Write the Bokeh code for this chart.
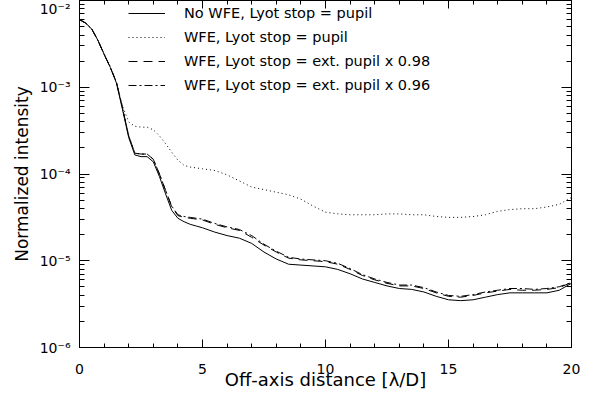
import numpy as np
from bokeh.plotting import figure
from bokeh.models import (LinearAxis, LogAxis, FixedTicker, Range1d, Legend, LegendItem,
                          CustomJSTickFormatter)
from bokeh.embed import file_html
from bokeh.resources import INLINE

# Off-axis distance [lambda/D]
x_dist = [0, 0.25, 0.5, 0.75, 1.0, 1.25, 1.5, 1.75, 2.0, 2.25, 2.5, 2.75, 3.0, 3.25, 3.5,
          3.75, 4.0, 4.25, 4.5, 4.75, 5.0, 5.5, 6.0, 6.5, 7.0, 7.5, 8.0, 8.5, 9.0, 9.5,
          10.0, 10.5, 11.0, 11.5, 12.0, 12.5, 13.0, 13.5, 14.0, 14.5, 15.0, 15.5, 16.0,
          16.5, 17.0, 17.5, 18.0, 18.5, 19.0, 19.5, 20.0]

# log10 of normalized intensity
log_no_wfe = [-2.22, -2.26, -2.33, -2.46, -2.62, -2.77, -2.95, -3.26, -3.58, -3.78, -3.80,
              -3.80, -3.86, -4.03, -4.23, -4.42, -4.51, -4.55, -4.58, -4.60, -4.62, -4.67,
              -4.71, -4.74, -4.80, -4.90, -4.98, -5.04, -5.05, -5.06, -5.07, -5.10, -5.15,
              -5.21, -5.25, -5.29, -5.32, -5.33, -5.36, -5.41, -5.45, -5.46, -5.45, -5.42,
              -5.39, -5.37, -5.37, -5.37, -5.37, -5.34, -5.26]
log_wfe_pupil = [-2.22, -2.26, -2.33, -2.46, -2.61, -2.76, -2.95, -3.22, -3.40, -3.45, -3.46,
                 -3.46, -3.49, -3.56, -3.65, -3.75, -3.84, -3.90, -3.92, -3.93, -3.94, -3.96,
                 -4.01, -4.08, -4.15, -4.18, -4.21, -4.24, -4.29, -4.37, -4.44, -4.46, -4.47,
                 -4.47, -4.47, -4.46, -4.46, -4.47, -4.47, -4.49, -4.50, -4.50, -4.49, -4.47,
                 -4.43, -4.41, -4.40, -4.40, -4.38, -4.35, -4.27]
log_wfe_098 = [-2.22, -2.26, -2.33, -2.46, -2.62, -2.77, -2.94, -3.24, -3.56, -3.76, -3.77,
               -3.77, -3.83, -4.00, -4.19, -4.38, -4.48, -4.50, -4.51, -4.52, -4.53, -4.58,
               -4.62, -4.65, -4.73, -4.82, -4.90, -4.97, -4.99, -5.00, -5.01, -5.04, -5.10,
               -5.17, -5.22, -5.26, -5.29, -5.29, -5.32, -5.37, -5.41, -5.42, -5.40, -5.37,
               -5.35, -5.33, -5.34, -5.34, -5.33, -5.31, -5.25]
log_wfe_096 = [-2.22, -2.26, -2.33, -2.46, -2.62, -2.77, -2.94, -3.24, -3.56, -3.76, -3.77,
               -3.77, -3.83, -4.00, -4.19, -4.37, -4.47, -4.49, -4.50, -4.51, -4.52, -4.57,
               -4.61, -4.64, -4.71, -4.81, -4.89, -4.96, -4.98, -4.99, -5.00, -5.03, -5.09,
               -5.16, -5.21, -5.25, -5.28, -5.28, -5.31, -5.36, -5.40, -5.41, -5.39, -5.36,
               -5.34, -5.32, -5.32, -5.33, -5.32, -5.30, -5.25]

series_labels = ["No WFE, Lyot stop = pupil",
                 "WFE, Lyot stop = pupil",
                 "WFE, Lyot stop = ext. pupil x 0.98",
                 "WFE, Lyot stop = ext. pupil x 0.96"]

x_major = [0, 5, 10, 15, 20]
y_major = [1e-6, 1e-5, 1e-4, 1e-3, 1e-2]

FONT = "DejaVu Sans"

x_ticker = FixedTicker(ticks=x_major, minor_ticks=list(range(0, 21)))
y_minor = [m * d for d in [1e-6, 1e-5, 1e-4, 1e-3] for m in range(2, 10)]
y_ticker = FixedTicker(ticks=y_major, minor_ticks=y_minor)

sup_fmt = CustomJSTickFormatter(code="""
const e = Math.round(Math.log10(tick));
const sup = {'-':'\u207b','0':'\u2070','1':'\u00b9','2':'\u00b2','3':'\u00b3','4':'\u2074',
             '5':'\u2075','6':'\u2076','7':'\u2077','8':'\u2078','9':'\u2079'};
return '10' + String(e).split('').map(c => sup[c]).join('');
""")
blank_fmt = CustomJSTickFormatter(code="return '';")

p = figure(frame_width=492, frame_height=347,
           x_range=Range1d(0, 20), y_range=Range1d(1e-6, 1e-2), y_axis_type="log",
           output_backend="svg", toolbar_location=None,
           min_border_left=79, min_border_right=14, min_border_top=0, min_border_bottom=40,
           x_axis_label="Off-axis distance [\u03bb/D]", y_axis_label="Normalized intensity")
p.grid.visible = False
p.outline_line_color = None
p.background_fill_color = "white"
p.border_fill_color = "white"


def style_axis(ax, major_len, minor_len):
    ax.axis_line_color = "black"
    ax.axis_line_width = 1
    ax.major_tick_line_color = "black"
    ax.minor_tick_line_color = "black"
    ax.major_tick_in = major_len
    ax.major_tick_out = 0
    ax.minor_tick_in = minor_len
    ax.minor_tick_out = 0
    ax.axis_label_text_font = FONT
    ax.axis_label_text_font_style = "normal"
    ax.axis_label_text_font_size = "17px"
    ax.axis_label_text_color = "black"
    ax.major_label_text_font = FONT
    ax.major_label_text_font_size = "14px"
    ax.major_label_text_color = "black"


xa = p.xaxis[0]
xa.ticker = x_ticker
style_axis(xa, 8, 4)
xa.major_label_standoff = 16
xa.axis_label_standoff = -8
xa.axis_label_text_font_size = "18px"

ya = p.yaxis[0]
ya.ticker = y_ticker
ya.formatter = sup_fmt
style_axis(ya, 10, 5)
ya.major_label_standoff = 9
ya.axis_label_standoff = 5

top = LinearAxis(ticker=x_ticker, formatter=blank_fmt)
style_axis(top, 8, 4)
top.major_label_standoff = 0
p.add_layout(top, "above")

right = LogAxis(ticker=y_ticker, formatter=blank_fmt)
style_axis(right, 10, 5)
right.major_label_standoff = 0
p.add_layout(right, "right")

xs = np.array(x_dist)
r1 = p.line(xs, 10 ** np.array(log_no_wfe), line_color="black", line_width=1)
r2 = p.line(xs, 10 ** np.array(log_wfe_pupil), line_color="black", line_width=1, line_dash="1 3")
r3 = p.line(xs, 10 ** np.array(log_wfe_098), line_color="black", line_width=1, line_dash="9 6")
r4 = p.line(xs, 10 ** np.array(log_wfe_096), line_color="black", line_width=1, line_dash="8 3 2 3")

legend = Legend(items=[LegendItem(label=series_labels[i], renderers=[r])
                       for i, r in enumerate([r1, r2, r3, r4])],
                location=(49, 254), orientation="vertical",
                glyph_width=37, glyph_height=16, label_height=16, label_standoff=19,
                spacing=8, padding=0, margin=0,
                border_line_alpha=0, background_fill_alpha=0,
                label_text_font=FONT, label_text_font_size="14.5px", label_text_color="black")
p.add_layout(legend, "center")

open("out.html", "w").write(file_html(p, INLINE))
